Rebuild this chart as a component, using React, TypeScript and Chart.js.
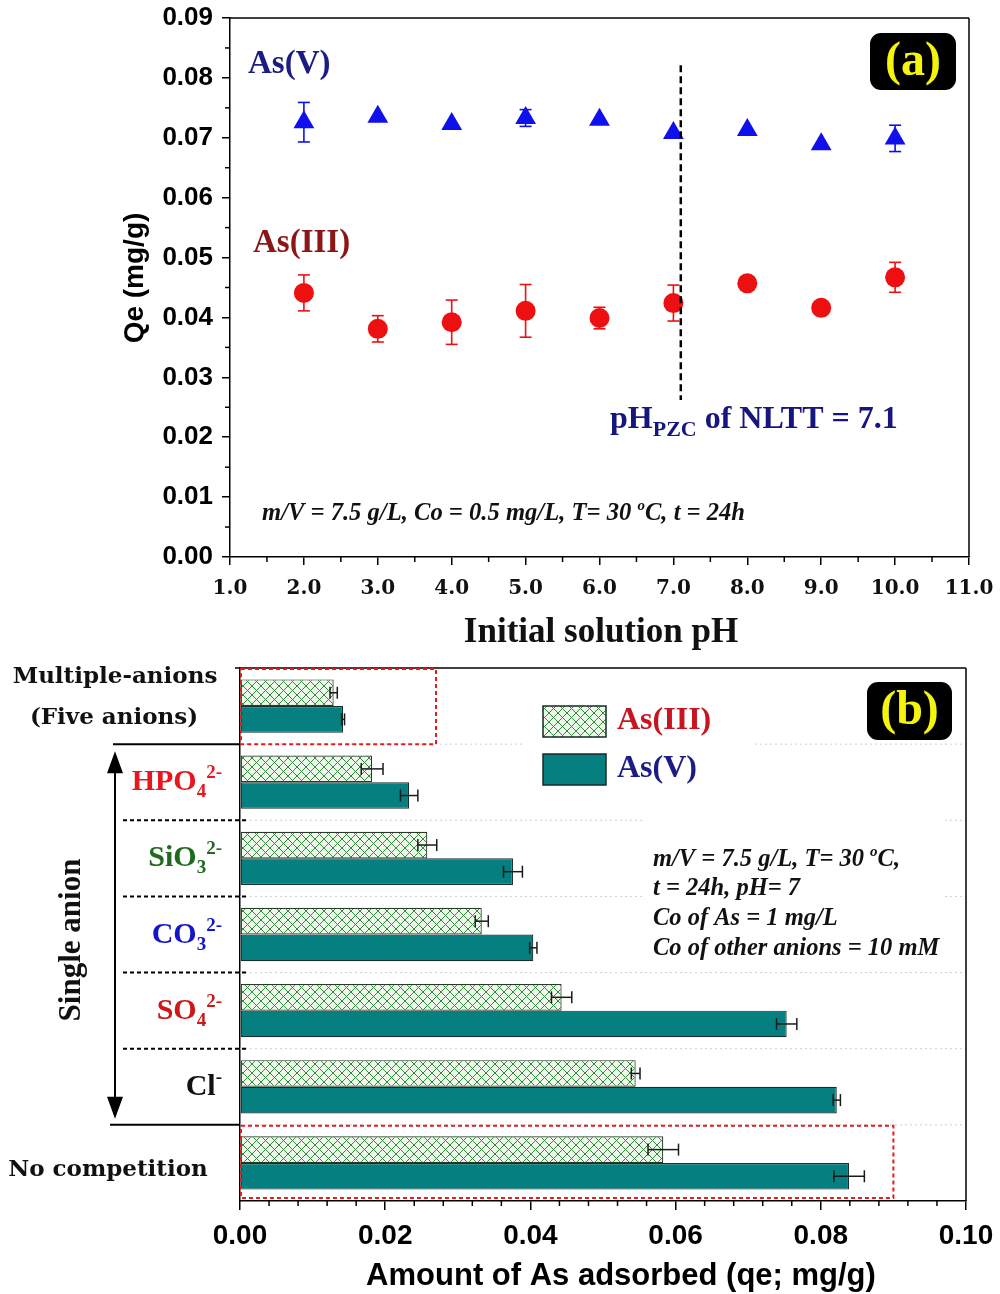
import React, { useEffect, useRef } from 'react';
import { Chart, registerables } from 'chart.js';

Chart.register(...registerables);

// ---------- (a) effect of initial pH ----------
const PH_VALUES = [2, 3, 4, 5, 6, 7, 8, 9, 10];
const QE_AS5 = [0.0726, 0.0735, 0.0723, 0.0733, 0.073, 0.0708, 0.0713, 0.0689, 0.0699];
const QE_AS5_ERR = [0.0033, 0, 0, 0.0014, 0, 0, 0, 0, 0.0022];
const QE_AS3 = [0.0441, 0.0381, 0.0392, 0.0411, 0.0399, 0.0424, 0.0457, 0.0416, 0.0467];
const QE_AS3_ERR = [0.003, 0.0022, 0.0037, 0.0044, 0.0018, 0.003, 0, 0, 0.0025];
const PH_PZC = 7.1;
const PZC_LINE_RANGE = [0.0262, 0.0821];
const PH_TICKS = [1, 2, 3, 4, 5, 6, 7, 8, 9, 10, 11];
const QE_TICKS = [0, 0.01, 0.02, 0.03, 0.04, 0.05, 0.06, 0.07, 0.08, 0.09];

// ---------- (b) competing anions ----------
const GROUPS = ['Multiple-anions', 'HPO4', 'SiO3', 'CO3', 'SO4', 'Cl', 'No competition'];
const ADS_AS3 = [0.0129, 0.0182, 0.0258, 0.0333, 0.0443, 0.0545, 0.0583];
const ADS_AS3_ERR = [0.0005, 0.0015, 0.0013, 0.0009, 0.0014, 0.0006, 0.0021];
const ADS_AS5 = [0.0142, 0.0233, 0.0376, 0.0404, 0.0753, 0.0822, 0.0839];
const ADS_AS5_ERR = [0.0002, 0.0012, 0.0013, 0.0005, 0.0014, 0.0005, 0.0021];
const ADS_TICKS = [0, 0.02, 0.04, 0.06, 0.08, 0.1];
const MULTI_BOX_MAX = 0.027;
const NO_COMP_BOX_MAX = 0.09;

const SANS = '"Liberation Sans", Arial, sans-serif';
const SERIF = '"Liberation Serif", "Times New Roman", serif';
const WIDE_SERIF = '"DejaVu Serif", serif';

type Seg = { t: string; size: number; dy?: number };

function drawRich(
  ctx: CanvasRenderingContext2D,
  segs: Seg[],
  x: number,
  y: number,
  align: 'left' | 'right' | 'center',
  style: string,
  family: string,
  color: string
) {
  ctx.save();
  ctx.textBaseline = 'alphabetic';
  ctx.textAlign = 'left';
  ctx.fillStyle = color;
  const widths = segs.map((s) => {
    ctx.font = `${style} ${s.size}px ${family}`;
    return ctx.measureText(s.t).width;
  });
  const total = widths.reduce((a, b) => a + b, 0);
  let cx = align === 'left' ? x : align === 'right' ? x - total : x - total / 2;
  segs.forEach((s, i) => {
    ctx.font = `${style} ${s.size}px ${family}`;
    ctx.fillText(s.t, cx, y + (s.dy || 0));
    cx += widths[i];
  });
  ctx.restore();
}

function drawText(
  ctx: CanvasRenderingContext2D,
  text: string,
  x: number,
  y: number,
  font: string,
  color: string,
  align: CanvasTextAlign = 'center',
  rotate = 0
) {
  ctx.save();
  ctx.translate(x, y);
  if (rotate) ctx.rotate(rotate);
  ctx.font = font;
  ctx.fillStyle = color;
  ctx.textAlign = align;
  ctx.textBaseline = 'middle';
  ctx.fillText(text, 0, 0);
  ctx.restore();
}

function badge(ctx: CanvasRenderingContext2D, label: string, x: number, y: number, w: number, h: number) {
  ctx.save();
  ctx.fillStyle = '#000';
  ctx.beginPath();
  ctx.roundRect(x, y, w, h, 11);
  ctx.fill();
  ctx.restore();
  drawText(ctx, label, x + w / 2, y + h / 2 + 1, `bold 48px ${SERIF}`, '#f4f40c');
}

function line(ctx: CanvasRenderingContext2D, x1: number, y1: number, x2: number, y2: number, width = 1.5, color = '#000', dash: number[] = []) {
  ctx.save();
  ctx.strokeStyle = color;
  ctx.lineWidth = width;
  ctx.setLineDash(dash);
  ctx.beginPath();
  ctx.moveTo(x1, y1);
  ctx.lineTo(x2, y2);
  ctx.stroke();
  ctx.restore();
}

function axisStyle(tickLen: number) {
  return {
    border: { display: true, color: '#000', width: 1.5 },
    grid: { drawOnChartArea: false, drawTicks: true, tickLength: tickLen, color: '#000', lineWidth: 1.5 },
  };
}

// fixes the size of an axis box and drops the extra room Chart.js keeps for end labels
function fixBox(size: number, horizontal: boolean) {
  return (s: any) => {
    if (horizontal) s.height = size;
    else s.width = size;
    s.paddingTop = 0;
    s.paddingBottom = 0;
    s.paddingLeft = 0;
    s.paddingRight = 0;
  };
}

// ---------- panel (a) ----------
const panelAPlugin = {
  id: 'panelA',
  beforeDatasetsDraw(chart: any) {
    const ctx: CanvasRenderingContext2D = chart.ctx;
    const { left, right, top, bottom } = chart.chartArea;
    const xs = chart.scales.x;
    const ys = chart.scales.y;
    // frame
    line(ctx, left, top, right, top);
    line(ctx, right, top, right, bottom);
    // minor ticks
    for (let v = 1.5; v < 11; v += 1) {
      const px = xs.getPixelForValue(v);
      line(ctx, px, bottom, px, bottom + 5);
    }
    for (let v = 0.005; v < 0.09; v += 0.01) {
      const py = ys.getPixelForValue(v);
      line(ctx, left - 5, py, left, py);
    }
    // error bars
    const series = [
      { vals: QE_AS5, errs: QE_AS5_ERR, color: '#1010ee' },
      { vals: QE_AS3, errs: QE_AS3_ERR, color: '#ee1010' },
    ];
    series.forEach((s) => {
      PH_VALUES.forEach((ph, i) => {
        const e = s.errs[i];
        if (!e) return;
        const px = xs.getPixelForValue(ph);
        const y1 = ys.getPixelForValue(s.vals[i] + e);
        const y2 = ys.getPixelForValue(s.vals[i] - e);
        line(ctx, px, y1, px, y2, 1.6, s.color);
        line(ctx, px - 6, y1, px + 6, y1, 1.6, s.color);
        line(ctx, px - 6, y2, px + 6, y2, 1.6, s.color);
      });
    });
  },
  afterDatasetsDraw(chart: any) {
    const ctx: CanvasRenderingContext2D = chart.ctx;
    const xs = chart.scales.x;
    const ys = chart.scales.y;
    const px = xs.getPixelForValue(PH_PZC);
    line(ctx, px, ys.getPixelForValue(PZC_LINE_RANGE[1]), px, ys.getPixelForValue(PZC_LINE_RANGE[0]), 2.5, '#000', [7, 4]);
  },
  afterDraw(chart: any) {
    const ctx: CanvasRenderingContext2D = chart.ctx;
    drawText(ctx, 'As(V)', 248, 64, `bold 33px ${SERIF}`, '#1c1c84', 'left');
    drawText(ctx, 'As(III)', 253, 243, `bold 33px ${SERIF}`, '#8c1616', 'left');
    drawRich(
      ctx,
      [
        { t: 'pH', size: 32 },
        { t: 'PZC', size: 22, dy: 8 },
        { t: ' of NLTT = ' + PH_PZC.toFixed(1), size: 32 },
      ],
      610,
      428,
      'left',
      'bold',
      SERIF,
      '#16167e'
    );
    drawRich(
      ctx,
      [
        { t: 'm/V = 7.5 g/L, Co = 0.5 mg/L, T= 30 ', size: 24.6 },
        { t: 'o', size: 15, dy: -10 },
        { t: 'C, t = 24h', size: 24.6 },
      ],
      262,
      520,
      'left',
      'italic bold',
      SERIF,
      '#111'
    );
    badge(ctx, '(a)', 870, 33, 86, 57);
    drawText(ctx, 'Qe (mg/g)', 135, 278, `bold 28px ${SANS}`, '#000', 'center', -Math.PI / 2);
    drawText(ctx, 'Initial solution pH', 601, 633, `bold 35px ${SERIF}`, '#111');
  },
};

function makePanelA(canvas: HTMLCanvasElement) {
  return new Chart(canvas, {
    type: 'scatter',
    data: {
      datasets: [
        {
          label: 'As(V)',
          data: PH_VALUES.map((x, i) => ({ x, y: QE_AS5[i] })),
          pointStyle: 'triangle',
          pointRadius: 12,
          backgroundColor: '#1010ee',
          borderColor: '#1010ee',
          borderWidth: 0,
        },
        {
          label: 'As(III)',
          data: PH_VALUES.map((x, i) => ({ x, y: QE_AS3[i] })),
          pointStyle: 'circle',
          pointRadius: 10,
          backgroundColor: '#ee1010',
          borderColor: '#ee1010',
          borderWidth: 0,
        },
      ],
    },
    options: {
      responsive: false,
      animation: false,
      devicePixelRatio: 1,
      events: [],
      layout: { padding: { left: 0, right: 31, top: 18, bottom: 0 } },
      plugins: { legend: { display: false }, tooltip: { enabled: false } },
      scales: {
        x: {
          type: 'linear',
          min: 1,
          max: 11,
          ...axisStyle(8),
          afterBuildTicks: (s: any) => {
            s.ticks = PH_TICKS.map((v) => ({ value: v }));
          },
          afterFit: fixBox(93, true),
          ticks: {
            color: '#111',
            padding: 12,
            maxRotation: 0,
            autoSkip: false,
            font: { family: WIDE_SERIF, size: 20, weight: 'bold' },
            callback: (v: any) => Number(v).toFixed(1),
          },
        },
        y: {
          type: 'linear',
          min: 0,
          max: 0.09,
          ...axisStyle(8),
          afterBuildTicks: (s: any) => {
            s.ticks = QE_TICKS.map((v) => ({ value: v }));
          },
          afterFit: fixBox(230, false),
          ticks: {
            color: '#000',
            padding: 9,
            autoSkip: false,
            font: { family: SANS, size: 26, weight: 'bold' },
            callback: (v: any) => Number(v).toFixed(2),
          },
        },
      },
    } as any,
    plugins: [panelAPlugin],
  });
}

// ---------- panel (b) ----------
function hatchPattern(): CanvasPattern {
  const tile = document.createElement('canvas');
  tile.width = 9;
  tile.height = 9;
  const t = tile.getContext('2d')!;
  t.fillStyle = '#eef8ea';
  t.fillRect(0, 0, 9, 9);
  t.strokeStyle = '#2e8c38';
  t.lineWidth = 1;
  t.beginPath();
  t.moveTo(0, 0);
  t.lineTo(9, 9);
  t.moveTo(9, 0);
  t.lineTo(0, 9);
  t.stroke();
  return t.createPattern(tile, 'repeat')!;
}

const TEAL = '#057f7f';

function makePanelB(canvas: HTMLCanvasElement) {
  const hatch = hatchPattern();

  const plugin = {
    id: 'panelB',
    beforeDatasetsDraw(chart: any) {
      const ctx: CanvasRenderingContext2D = chart.ctx;
      const { left, right, top, bottom } = chart.chartArea;
      const ys = chart.scales.y;
      const xs = chart.scales.x;
      const band = ys.getPixelForValue(1) - ys.getPixelForValue(0);
      const b0 = ys.getPixelForValue(0) - band / 2;
      for (let k = 1; k < GROUPS.length; k++) {
        const py = b0 + k * band;
        line(ctx, left, py, right, py, 1, '#cfcfcf', [2, 3]);
      }
      line(ctx, left - 5, top, right, top);
      line(ctx, right, top, right, bottom);
      for (let v = 0.004; v < 0.1; v += 0.004) {
        if (Math.abs(v / 0.02 - Math.round(v / 0.02)) < 1e-6) continue;
        const px = xs.getPixelForValue(v);
        line(ctx, px, bottom, px, bottom + 5);
      }
    },
    afterDatasetsDraw(chart: any) {
      const ctx: CanvasRenderingContext2D = chart.ctx;
      const xs = chart.scales.x;
      const ys = chart.scales.y;
      const sets = [
        { vals: ADS_AS3, errs: ADS_AS3_ERR },
        { vals: ADS_AS5, errs: ADS_AS5_ERR },
      ];
      sets.forEach((s, d) => {
        const meta = chart.getDatasetMeta(d);
        meta.data.forEach((bar: any, i: number) => {
          const y = bar.y;
          const x1 = xs.getPixelForValue(s.vals[i] - s.errs[i]);
          const x2 = xs.getPixelForValue(s.vals[i] + s.errs[i]);
          line(ctx, x1, y, x2, y, 1.5, '#1a1a1a');
          line(ctx, x1, y - 6, x1, y + 6, 1.5, '#1a1a1a');
          line(ctx, x2, y - 6, x2, y + 6, 1.5, '#1a1a1a');
        });
      });
      // highlight boxes
      const band = ys.getPixelForValue(1) - ys.getPixelForValue(0);
      const b0 = ys.getPixelForValue(0) - band / 2;
      const x0 = xs.getPixelForValue(0) + 1;
      ctx.save();
      ctx.strokeStyle = '#e41c1c';
      ctx.lineWidth = 2;
      ctx.setLineDash([4, 3]);
      ctx.strokeRect(x0, b0 + 1, xs.getPixelForValue(MULTI_BOX_MAX) - x0, band - 1);
      ctx.strokeRect(x0, b0 + 6 * band + 1, xs.getPixelForValue(NO_COMP_BOX_MAX) - x0, band - 4);
      ctx.restore();
    },
    afterDraw(chart: any) {
      const ctx: CanvasRenderingContext2D = chart.ctx;
      const ys = chart.scales.y;
      const { left } = chart.chartArea;
      const band = ys.getPixelForValue(1) - ys.getPixelForValue(0);
      const b0 = ys.getPixelForValue(0) - band / 2;
      const c = (i: number) => ys.getPixelForValue(i);

      // group separators to the left of the axis
      line(ctx, 113, b0 + band, left, b0 + band, 2);
      line(ctx, 110, b0 + 6 * band, left, b0 + 6 * band, 2);
      for (let k = 2; k <= 5; k++) {
        line(ctx, 123, b0 + k * band, left + 6, b0 + k * band, 2, '#000', [4, 3]);
      }

      // double-headed arrow for the single-anion block
      const ax = 115;
      const tipTop = b0 + band + 7;
      const tipBot = b0 + 6 * band - 6;
      line(ctx, ax, tipTop + 18, ax, tipBot - 18, 2);
      ctx.save();
      ctx.fillStyle = '#000';
      ctx.beginPath();
      ctx.moveTo(ax, tipTop);
      ctx.lineTo(ax - 8, tipTop + 22);
      ctx.lineTo(ax + 8, tipTop + 22);
      ctx.closePath();
      ctx.moveTo(ax, tipBot);
      ctx.lineTo(ax - 8, tipBot - 22);
      ctx.lineTo(ax + 8, tipBot - 22);
      ctx.closePath();
      ctx.fill();
      ctx.restore();

      // category labels
      drawText(ctx, 'Multiple-anions', 115, c(0) - 29, `bold 23px ${WIDE_SERIF}`, '#111');
      drawText(ctx, '(Five anions)', 114, c(0) + 12, `bold 23px ${WIDE_SERIF}`, '#111');
      drawText(ctx, 'No competition', 108, c(6) + 7, `bold 23px ${WIDE_SERIF}`, '#111');

      const ions: { main: string; sub: string; sup: string; color: string }[] = [
        { main: 'HPO', sub: '4', sup: '2-', color: '#e8161e' },
        { main: 'SiO', sub: '3', sup: '2-', color: '#1f6a1f' },
        { main: 'CO', sub: '3', sup: '2-', color: '#1414c8' },
        { main: 'SO', sub: '4', sup: '2-', color: '#cc1818' },
        { main: 'Cl', sub: '', sup: '-', color: '#111' },
      ];
      ions.forEach((ion, k) => {
        const segs: Seg[] = [{ t: ion.main, size: 30 }];
        if (ion.sub) segs.push({ t: ion.sub, size: 19, dy: 7 });
        segs.push({ t: ion.sup, size: 19, dy: -12 });
        drawRich(ctx, segs, 222, c(k + 1) + 8, 'right', 'bold', SERIF, ion.color);
      });
      drawText(ctx, 'Single anion', 72, 290, `bold 31px ${SERIF}`, '#111', 'center', -Math.PI / 2);

      // legend
      ctx.save();
      ctx.fillStyle = '#fff';
      ctx.fillRect(522, 45, 230, 100);
      ctx.fillRect(645, 160, 300, 155);
      ctx.fillStyle = hatch;
      ctx.fillRect(543, 56, 63, 31);
      ctx.fillStyle = TEAL;
      ctx.fillRect(543, 104, 63, 31);
      ctx.strokeStyle = '#1a2a2a';
      ctx.lineWidth = 1.5;
      ctx.strokeRect(543, 56, 63, 31);
      ctx.strokeRect(543, 104, 63, 31);
      ctx.restore();
      drawText(ctx, 'As(III)', 617, 71, `bold 32px ${SERIF}`, '#c8141e', 'left');
      drawText(ctx, 'As(V)', 617, 119, `bold 32px ${SERIF}`, '#1c1c84', 'left');

      badge(ctx, '(b)', 867, 32, 85, 58);

      // experimental conditions
      const it = 'italic bold';
      drawRich(
        ctx,
        [
          { t: 'm/V = 7.5 g/L, T= 30 ', size: 24.5 },
          { t: 'o', size: 15, dy: -10 },
          { t: 'C,', size: 24.5 },
        ],
        653,
        216,
        'left',
        it,
        SERIF,
        '#111'
      );
      drawRich(ctx, [{ t: 't = 24h, pH= 7', size: 24.5 }], 653, 245, 'left', it, SERIF, '#111');
      drawRich(ctx, [{ t: 'Co of As = 1 mg/L', size: 24.5 }], 653, 275, 'left', it, SERIF, '#111');
      drawRich(ctx, [{ t: 'Co of other anions = 10 mM', size: 24.5 }], 653, 305, 'left', it, SERIF, '#111');

      drawText(ctx, 'Amount of As adsorbed (qe; mg/g)', 621, 626, `bold 31px ${SANS}`, '#000');
    },
  };

  return new Chart(canvas, {
    type: 'bar',
    data: {
      labels: GROUPS,
      datasets: [
        {
          label: 'As(III)',
          data: ADS_AS3,
          backgroundColor: hatch,
          borderColor: '#2a3a2a',
          borderWidth: 1.2,
          borderSkipped: false,
          categoryPercentage: 0.7,
          barPercentage: 1,
        },
        {
          label: 'As(V)',
          data: ADS_AS5,
          backgroundColor: TEAL,
          borderColor: '#1a2e2e',
          borderWidth: 1.2,
          borderSkipped: false,
          categoryPercentage: 0.7,
          barPercentage: 1,
        },
      ],
    },
    options: {
      indexAxis: 'y',
      responsive: false,
      animation: false,
      devicePixelRatio: 1,
      events: [],
      layout: { padding: { left: 0, right: 34, top: 18, bottom: 0 } },
      plugins: { legend: { display: false }, tooltip: { enabled: false } },
      scales: {
        x: {
          type: 'linear',
          min: 0,
          max: 0.1,
          ...axisStyle(9),
          afterBuildTicks: (s: any) => {
            s.ticks = ADS_TICKS.map((v) => ({ value: v }));
          },
          afterFit: fixBox(93, true),
          ticks: {
            color: '#000',
            padding: 9,
            maxRotation: 0,
            autoSkip: false,
            font: { family: SANS, size: 28, weight: 'bold' },
            callback: (v: any) => Number(v).toFixed(2),
          },
        },
        y: {
          type: 'category',
          border: { display: true, color: '#000', width: 1.5 },
          grid: { display: false },
          ticks: { display: false },
          afterFit: fixBox(240, false),
        },
      },
    } as any,
    plugins: [plugin],
  });
}

export default function App() {
  const refA = useRef<HTMLCanvasElement>(null);
  const refB = useRef<HTMLCanvasElement>(null);

  useEffect(() => {
    const a = makePanelA(refA.current!);
    const b = makePanelB(refB.current!);
    return () => {
      a.destroy();
      b.destroy();
    };
  }, []);

  return (
    <div style={{ position: 'absolute', left: 0, top: 0, width: 1000, height: 1294, background: '#fff' }}>
      <canvas ref={refA} width={1000} height={650} style={{ position: 'absolute', left: 0, top: 0, display: 'block' }} />
      <canvas ref={refB} width={1000} height={644} style={{ position: 'absolute', left: 0, top: 650, display: 'block' }} />
    </div>
  );
}
